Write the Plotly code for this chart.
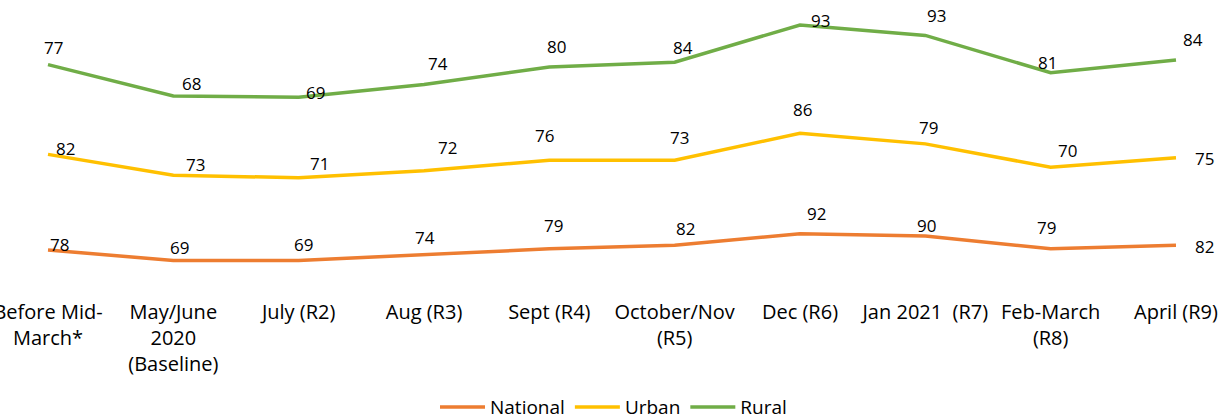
import plotly.graph_objects as go

categories = ["Before Mid-<br>March*", "May/June<br>2020<br>(Baseline)", "July (R2)", "Aug (R3)",
              "Sept (R4)", "October/Nov<br>(R5)", "Dec (R6)", "Jan 2021  (R7)",
              "Feb-March<br>(R8)", "April (R9)"]
national = [78, 69, 69, 74, 79, 82, 92, 90, 79, 82]
urban = [82, 73, 71, 72, 76, 73, 86, 79, 70, 75]
rural = [77, 68, 69, 74, 80, 84, 93, 93, 81, 84]

colors = {"National": "#ED7D31", "Urban": "#FFC000", "Rural": "#70AD47"}
FONT = "'Open Sans', Lato, sans-serif"

# data-label pixel offsets (style only): (dx, dy) with dy positive = up
off_nat = [(11, 5), (6, 13), (5, 16), (1, 17), (4, 23), (11, 17), (17, 20), (1, 10), (-4, 21), (29, -1)]
off_urb = [(17, 6), (22, 11), (21, 14), (23, 23), (-5, 25), (5, 23), (3, 24), (3, 16), (17, 17), (29, -1)]
off_rur = [(5, 17), (18, 13), (17, 5), (14, 21), (7, 20), (8, 15), (21, 4), (11, 20), (-3, 10), (17, 20)]

fig = go.Figure()
series = [("National", national, off_nat), ("Urban", urban, off_urb), ("Rural", rural, off_rur)]
cum = [0] * len(categories)
for name, vals, offs in series:
    fig.add_trace(go.Scatter(
        x=categories, y=vals, name=name, stackgroup="one", fill="none",
        mode="lines", line=dict(color=colors[name], width=3.5),
        hoverinfo="skip",
    ))
    cum = [c + v for c, v in zip(cum, vals)]
    for cat, c, v, (dx, dy) in zip(categories, cum, vals, offs):
        fig.add_annotation(x=cat, y=c, text=str(v), showarrow=False,
                           xanchor="center", yanchor="middle", xshift=dx, yshift=dy,
                           font=dict(family=FONT, size=17, color="#000000"))

fig.update_layout(
    width=1227, height=419,
    margin=dict(l=0, r=0, t=0, b=121, autoexpand=False),
    paper_bgcolor="white", plot_bgcolor="white",
    font=dict(family=FONT, color="#000000"),
    xaxis=dict(type="category", range=[-0.383, 9.407], showgrid=False, zeroline=False,
               showline=False, ticks="", automargin=False, ticklabelstandoff=0,
               tickfont=dict(family=FONT, size=20, color="#000000")),
    yaxis=dict(range=[36.8, 292.4], visible=False, showgrid=False, zeroline=False, automargin=False),
    showlegend=True,
    legend=dict(orientation="h", x=0.5, xanchor="center", y=-0.366,
                yanchor="middle", font=dict(family=FONT, size=19, color="#000000"),
                itemwidth=45, tracegroupgap=0, traceorder="normal"),
)

fig.write_html("out.html", config={"displayModeBar": False},
               post_script="document.body.style.margin='0';document.body.style.overflow='hidden';")
